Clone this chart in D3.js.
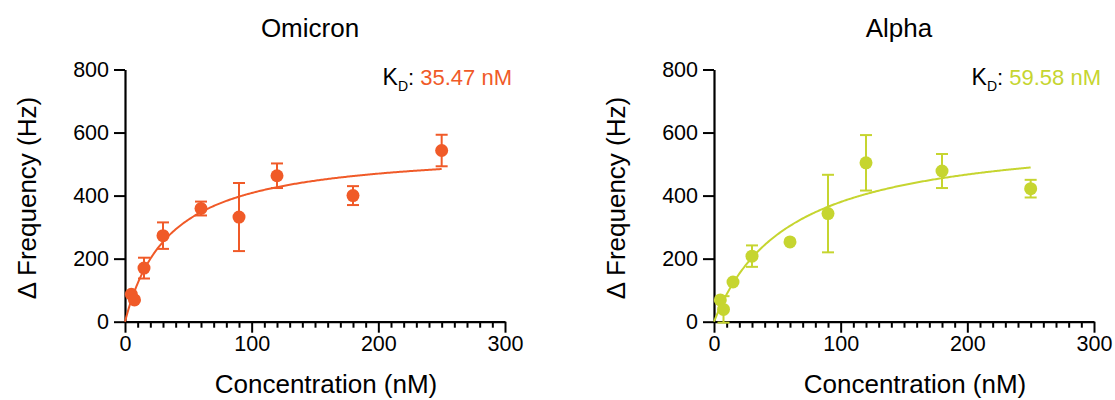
<!DOCTYPE html>
<html>
<head>
<meta charset="utf-8">
<script src="https://cdn.jsdelivr.net/npm/d3@7"></script>
<style>
  html, body { margin: 0; padding: 0; background: #fff; }
  svg { display: block; font-family: "Liberation Sans", Arial, Helvetica, sans-serif; }
</style>
</head>
<body>
<svg id="chart" width="1115" height="400"></svg>
<script>
// ---- Data ----
const concentrations = [5, 7.5, 15, 30, 60, 90, 120, 180, 250];

const omicronMean = [87, 69, 170, 273, 359, 332, 463, 400, 543];
const omicronSD   = [0, 0, 33, 42, 22, 108, 39, 30, 50];
const omicronKD = 35.47;
const omicronBmax = 553;

const alphaMean = [69, 39, 126, 208, 253, 343, 504, 478, 422];
const alphaSD   = [0, 42, 0, 34, 0, 123, 88, 54, 28];
const alphaKD = 59.58;
const alphaBmax = 606;

const xTicks = [0, 100, 200, 300];
const xMinorTicks = d3.range(0, 301, 10);
const yTicks = [0, 200, 400, 600, 800];

const panels = [
  { title: "Omicron", mean: omicronMean, sd: omicronSD, kd: omicronKD, bmax: omicronBmax, color: "#F05A28", kdLabel: "35.47 nM" },
  { title: "Alpha",   mean: alphaMean,   sd: alphaSD,   kd: alphaKD,   bmax: alphaBmax,   color: "#C6D530", kdLabel: "59.58 nM" }
];

// ---- Layout ----
const svg = d3.select("#chart");
const panelLeft = [125, 714];
const plotW = 380;
const yTop = 69.5, yBottom = 321.7;

panels.forEach((p, i) => {
  const x0 = panelLeft[i];
  const x = d3.scaleLinear().domain([0, 300]).range([x0, x0 + plotW]);
  const y = d3.scaleLinear().domain([0, 800]).range([yBottom, yTop]);
  const g = svg.append("g");

  // minor x ticks
  const minor = g.append("g").attr("transform", `translate(0,${yBottom})`)
    .call(d3.axisBottom(x).tickValues(xMinorTicks.filter(v => v % 100 !== 0)).tickSize(6).tickFormat(""));
  minor.select(".domain").remove();
  minor.selectAll("line").attr("stroke", "#000").attr("stroke-width", 2);

  // major x axis
  const xa = g.append("g").attr("transform", `translate(0,${yBottom})`)
    .call(d3.axisBottom(x).tickValues(xTicks).tickSize(11).tickSizeOuter(0).tickPadding(3));
  xa.select(".domain").attr("stroke", "#000").attr("stroke-width", 2.2);
  xa.selectAll("line").attr("stroke", "#000").attr("stroke-width", 2);
  xa.selectAll("text").attr("font-size", 21.5).attr("fill", "#000")
    .attr("font-family", "Liberation Sans, Arial, sans-serif");

  // y axis
  const ya = g.append("g").attr("transform", `translate(${x0},0)`)
    .call(d3.axisLeft(y).tickValues(yTicks).tickSize(11).tickSizeOuter(0).tickPadding(5));
  ya.select(".domain").attr("stroke", "#000").attr("stroke-width", 2.2);
  ya.selectAll("line").attr("stroke", "#000").attr("stroke-width", 2);
  ya.selectAll("text").attr("font-size", 21.5).attr("fill", "#000")
    .attr("font-family", "Liberation Sans, Arial, sans-serif");

  // fit curve (one-site binding model from KD and Bmax)
  const curveX = d3.range(0, 250.01, 1);
  const line = d3.line().x(d => x(d)).y(d => y(p.bmax * d / (p.kd + d)));
  g.append("path").datum(curveX).attr("d", line)
    .attr("fill", "none").attr("stroke", p.color).attr("stroke-width", 2);

  // error bars
  const cap = 6;
  concentrations.forEach((c, j) => {
    const sd = p.sd[j];
    if (sd > 0) {
      const cx = x(c);
      const yt = y(p.mean[j] + sd), yb = y(p.mean[j] - sd);
      g.append("line").attr("x1", cx).attr("x2", cx).attr("y1", yt).attr("y2", yb)
        .attr("stroke", p.color).attr("stroke-width", 2);
      g.append("line").attr("x1", cx - cap).attr("x2", cx + cap).attr("y1", yt).attr("y2", yt)
        .attr("stroke", p.color).attr("stroke-width", 2);
      g.append("line").attr("x1", cx - cap).attr("x2", cx + cap).attr("y1", yb).attr("y2", yb)
        .attr("stroke", p.color).attr("stroke-width", 2);
    }
  });

  // points
  g.selectAll("circle.pt").data(concentrations).enter().append("circle")
    .attr("class", "pt")
    .attr("cx", d => x(d))
    .attr("cy", (d, j) => y(p.mean[j]))
    .attr("r", 6.5)
    .attr("fill", p.color);

  // title
  g.append("text").attr("x", x0 + plotW / 2 - 5).attr("y", 37)
    .attr("text-anchor", "middle").attr("font-size", 26).attr("fill", "#000")
    .text(p.title);

  // KD annotation
  const kd = g.append("text").attr("x", x0 + 387).attr("y", 85)
    .attr("text-anchor", "end").attr("font-size", 22);
  kd.append("tspan").attr("fill", "#000").attr("font-size", 23).text("K");
  kd.append("tspan").attr("fill", "#000").attr("font-size", 14).attr("dy", 6).text("D");
  kd.append("tspan").attr("fill", "#000").attr("dy", -6).text(": ");
  kd.append("tspan").attr("fill", p.color).text(p.kdLabel);

  // axis titles
  g.append("text").attr("x", x0 + 201).attr("y", 393)
    .attr("text-anchor", "middle").attr("font-size", 26).attr("fill", "#000")
    .text("Concentration (nM)");
  g.append("text")
    .attr("transform", `translate(${x0 - 89},198) rotate(-90)`)
    .attr("text-anchor", "middle").attr("font-size", 26).attr("fill", "#000")
    .text("Δ Frequency (Hz)");
});
</script>
</body>
</html>
